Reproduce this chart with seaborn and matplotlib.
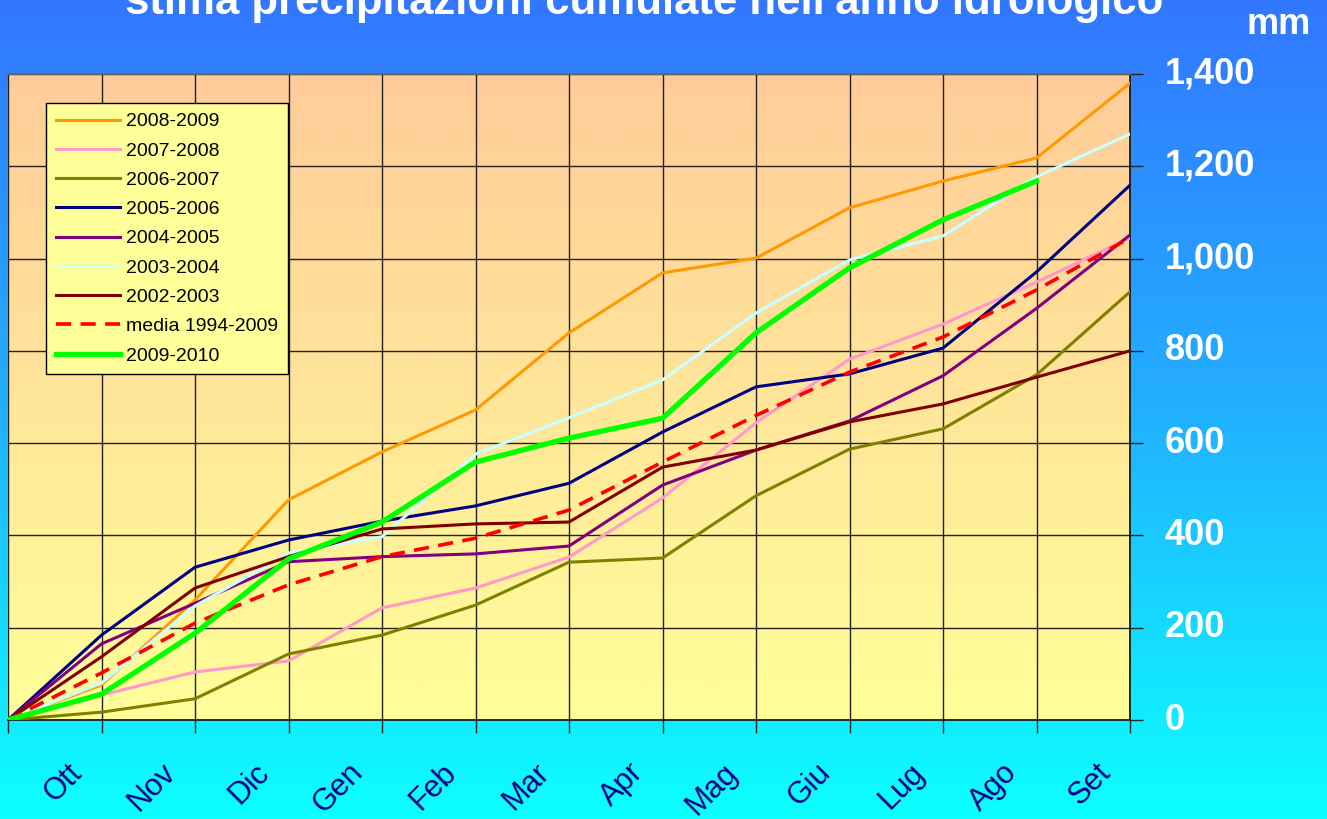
import numpy as np
import pandas as pd
import matplotlib
matplotlib.use("Agg")
import matplotlib.pyplot as plt
import matplotlib.transforms as mtrans
from matplotlib.colors import LinearSegmentedColormap
from matplotlib.lines import Line2D
import seaborn as sns

# ---------------- data ----------------
months = ["Ott", "Nov", "Dic", "Gen", "Feb", "Mar", "Apr", "Mag", "Giu", "Lug", "Ago", "Set"]
y_ticks = [0, 200, 400, 600, 800, 1000, 1200, 1400]

s_2008_2009 = [0, 76, 260, 477, 581, 672, 839, 969, 1001, 1110, 1168, 1218, 1380]
s_2007_2008 = [0, 54, 104, 128, 243, 286, 353, 481, 644, 782, 858, 949, 1045]
s_2006_2007 = [0, 17, 46, 143, 184, 249, 342, 351, 486, 587, 631, 748, 928]
s_2005_2006 = [0, 184, 331, 390, 431, 464, 513, 624, 722, 750, 806, 971, 1159]
s_2004_2005 = [0, 165, 253, 343, 354, 360, 377, 509, 585, 648, 746, 892, 1051]
s_2003_2004 = [0, 80, 247, 362, 397, 576, 655, 737, 882, 997, 1049, 1177, 1270]
s_2002_2003 = [0, 137, 286, 354, 414, 425, 429, 548, 585, 646, 685, 743, 800]
media_1994_2009 = [0, 102, 210, 293, 354, 394, 455, 559, 660, 754, 830, 932, 1045]
s_2009_2010 = [0, 56, 188, 349, 429, 559, 611, 654, 839, 980, 1084, 1168]

series = [
    ("2008-2009", s_2008_2009, "#FF9900", 2.2, "-"),
    ("2007-2008", s_2007_2008, "#FF99CC", 2.2, "-"),
    ("2006-2007", s_2006_2007, "#808000", 2.2, "-"),
    ("2005-2006", s_2005_2006, "#000080", 2.2, "-"),
    ("2004-2005", s_2004_2005, "#800080", 2.2, "-"),
    ("2003-2004", s_2003_2004, "#CCFFFF", 2.2, "-"),
    ("2002-2003", s_2002_2003, "#800000", 2.2, "-"),
    ("media 1994-2009", media_1994_2009, "#FF0000", 2.6, (0, (4.2, 2.6))),
    ("2009-2010", s_2009_2010, "#00FF00", 3.8, "-"),
]

rows = []
for name, vals, *_ in series:
    for i, v in enumerate(vals):
        rows.append({"serie": name, "step": i, "mm": v})
df = pd.DataFrame(rows)

# ---------------- figure ----------------
W, H = 1327, 819
fig = plt.figure(figsize=(W / 100, H / 100), dpi=100)

# figure background gradient
bg = fig.add_axes([0, 0, 1, 1], zorder=-10)
bg_cmap = LinearSegmentedColormap.from_list("bg", ["#3377FF", "#22B0FF", "#0CFFFF"])
bg.imshow(np.linspace(0, 1, 256).reshape(-1, 1), aspect="auto", cmap=bg_cmap,
          extent=[0, 1, 0, 1], origin="upper")
bg.axis("off")

x0, x1 = 8 / W, 1130 / W
y_top, y_bot = 74 / H, 720 / H
ax = fig.add_axes([x0, 1 - y_bot, x1 - x0, y_bot - y_top])

# plot-area gradient
pa_cmap = LinearSegmentedColormap.from_list("pa", ["#FFCC99", "#FFFF99"])
ax.imshow(np.linspace(0, 1, 256).reshape(-1, 1), aspect="auto", cmap=pa_cmap,
          extent=[0, 12, 0, 1400], origin="upper", zorder=0)

for name, vals, color, lw, ls in series:
    sub = df[df["serie"] == name]
    sns.lineplot(data=sub, x="step", y="mm", ax=ax, color=color, linewidth=lw,
                 linestyle=ls, label=name, zorder=3, legend=False)

ax.set_xlim(0, 12)
ax.set_ylim(0, 1400)
ax.set_xlabel("")
ax.set_ylabel("")

# grid
ax.set_xticks(range(13))
ax.set_xticklabels([""] + months)
ax.set_yticks(y_ticks)
ax.set_yticklabels([f"{v:,}" for v in y_ticks])
ax.grid(True, color="#222222", linewidth=1.0, zorder=1)
ax.set_axisbelow(True)

ax.yaxis.tick_right()
ax.tick_params(axis="y", which="both", direction="out", length=9, width=1,
               color="#222222", pad=16, labelsize=26, labelcolor="white")
ax.tick_params(axis="x", which="both", direction="out", length=9, width=1,
               color="#222222", pad=18, labelsize=22, labelcolor="#000080")
for lab in ax.get_yticklabels():
    lab.set_fontweight("bold")
    lab.set_fontfamily("Liberation Sans")
    lab.set_verticalalignment("center")
off = mtrans.ScaledTranslation(-13 / 100, 0, fig.dpi_scale_trans)
for lab in ax.get_xticklabels():
    lab.set_rotation(45)
    lab.set_ha("right")
    lab.set_va("top")
    lab.set_fontfamily("Liberation Sans")
    lab.set_transform(lab.get_transform() + off)

ax.spines["left"].set_visible(False)
ax.spines["top"].set_color("#666666")
ax.spines["top"].set_linewidth(1.5)
ax.spines["right"].set_color("#111111")
ax.spines["bottom"].set_color("#111111")
ax.spines["right"].set_linewidth(1.2)
ax.spines["bottom"].set_linewidth(1.2)

# legend
handles = [Line2D([0], [0], color=c, lw=lw, linestyle=ls) for _, _, c, lw, ls in series]
labels = [n for n, *_ in series]
leg = ax.legend(handles, labels, loc="upper left",
                bbox_to_anchor=((46 - 8) / 1122, (720 - 103) / 646),
                prop={"family": "Liberation Sans", "size": 14},
                frameon=True, fancybox=False, facecolor="#FFFF99", edgecolor="#000000",
                framealpha=1.0, handlelength=3.3, handletextpad=0.3,
                labelspacing=0.6, borderpad=0.5, borderaxespad=0)
leg.get_frame().set_linewidth(1.0)
leg.set_zorder(10)

# title (partially cut at top, as in the reference) and unit label
fig.text(644 / W, 1 - 14 / H, "stima precipitazioni cumulate nell'anno idrologico",
         ha="center", va="baseline", color="white", fontsize=31.5, fontweight="bold",
         family="Liberation Sans")
fig.text(1279 / W, 1 - 34 / H, "mm", ha="center", va="baseline", color="white",
         fontsize=26, fontweight="bold", family="Liberation Sans")

fig.savefig("out.png", dpi=100)
